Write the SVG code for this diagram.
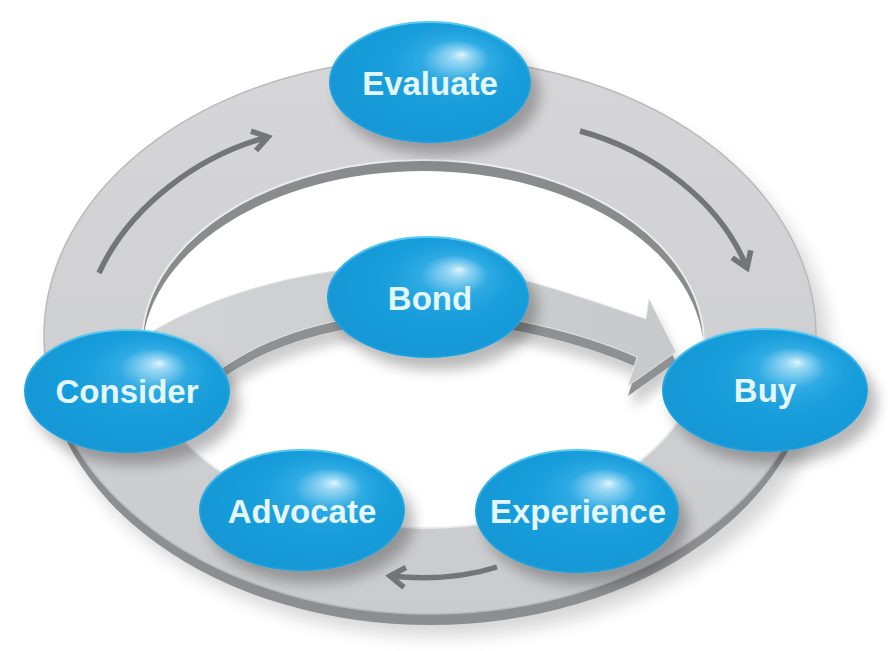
<svg xmlns="http://www.w3.org/2000/svg" width="895" height="651" viewBox="0 0 895 651">
<style>
.lbl{font-family:"Liberation Sans",Arial,Helvetica,sans-serif;font-weight:bold;font-size:33px;fill:#e4f7fd;text-anchor:middle}
.node{fill:url(#blue);filter:url(#nsh);stroke:url(#rim);stroke-width:2}
.ra{fill:none;stroke:#737577;stroke-width:5.5;stroke-linecap:butt;marker-end:url(#chev)}
</style>
<defs>
<radialGradient id="blue" cx="0.55" cy="0.45" r="0.6" fx="0.66" fy="0.27">
<stop offset="0" stop-color="#dff3fc"/>
<stop offset="0.08" stop-color="#9ad8f4"/>
<stop offset="0.28" stop-color="#2fabe3"/>
<stop offset="0.5" stop-color="#1a9fdc"/>
<stop offset="1" stop-color="#1596d5"/>
</radialGradient>
<linearGradient id="rim" x1="0" y1="0" x2="0" y2="1">
<stop offset="0" stop-color="#5ccbf2"/>
<stop offset="0.5" stop-color="#1a9fdc"/>
<stop offset="1" stop-color="#1a9fdc"/>
</linearGradient>
<linearGradient id="face" x1="0" y1="0" x2="0" y2="1">
<stop offset="0" stop-color="#d6d6d8"/>
<stop offset="1" stop-color="#cacbcd"/>
</linearGradient>
<linearGradient id="bandface" x1="0" y1="0" x2="1" y2="0">
<stop offset="0" stop-color="#d2d3d5"/>
<stop offset="1" stop-color="#c8c9cb"/>
</linearGradient>
<clipPath id="hole"><ellipse cx="423" cy="344" rx="281" ry="184"/></clipPath>
<filter id="nsh" x="-30%" y="-30%" width="170%" height="180%">
<feGaussianBlur in="SourceAlpha" stdDeviation="7"/>
<feOffset dx="9" dy="12" result="b"/>
<feComponentTransfer><feFuncA type="linear" slope="0.28"/></feComponentTransfer>
<feMerge><feMergeNode/><feMergeNode in="SourceGraphic"/></feMerge>
</filter>
<filter id="blur10" x="-20%" y="-20%" width="140%" height="140%"><feGaussianBlur stdDeviation="9"/></filter>
<filter id="bsh" x="-20%" y="-40%" width="140%" height="200%">
<feGaussianBlur in="SourceAlpha" stdDeviation="6"/>
<feOffset dx="4" dy="12"/>
<feComponentTransfer><feFuncA type="linear" slope="0.2"/></feComponentTransfer>
<feMerge><feMergeNode/><feMergeNode in="SourceGraphic"/></feMerge>
</filter>
<marker id="chev" viewBox="0 0 26 26" refX="18" refY="13" markerWidth="26" markerHeight="26" markerUnits="userSpaceOnUse" orient="auto">
<path d="M 3 3 L 18 13 L 3 23" fill="none" stroke="#737577" stroke-width="5.5"/>
</marker>
</defs>
<rect width="895" height="651" fill="#ffffff"/>
<g id="ring">
<ellipse cx="440" cy="356" rx="390" ry="280" fill="#000" opacity="0.16" filter="url(#blur10)"/>
<ellipse cx="430" cy="347" rx="386" ry="278" fill="#8d8e90"/>
<path d="M 44 336 A 386 278 0 1 0 816 336 A 386 278 0 1 0 44 336 Z M 142 344 A 281 184 0 1 0 704 344 A 281 184 0 1 0 142 344 Z" fill="url(#face)" fill-rule="evenodd" stroke="#b9babc" stroke-width="1.5"/>
<ellipse cx="423" cy="344" rx="281" ry="184" fill="#8a8b8d"/>
<ellipse cx="423" cy="355" rx="281" ry="184" fill="#ffffff" clip-path="url(#hole)"/>
<ellipse cx="423" cy="344" rx="281" ry="184" fill="none" stroke="#ececee" stroke-width="2"/>
</g>
<g id="connectors">
<g id="bond-arrow" filter="url(#bsh)">
<path transform="translate(0,10)" d="M 148 334 C 220 290 320 265 420 265 C 490 265 560 290 646 319 L 649 299 L 676 352 L 628 386 L 637 357 C 580 332 500 312 428 312 C 350 312 280 330 228 364 L 190 390 L 130 370 Z" fill="#8f9092"/>
<path d="M 148 334 C 220 290 320 265 420 265 C 490 265 560 290 646 319 L 649 299 L 676 352 L 628 386 L 637 357 C 580 332 500 312 428 312 C 350 312 280 330 228 364 L 190 390 L 130 370 Z" fill="url(#bandface)" stroke="#e4e4e6" stroke-width="1"/>
</g>
<path class="ra" d="M 99 273 C 130 205 200 155 268 137"/>
<path class="ra" d="M 580 131 C 650 150 720 200 747 268"/>
<path class="ra" d="M 497 567 Q 450 582 390 576"/>
</g>
<g id="node-evaluate">
<ellipse class="node" cx="430" cy="82" rx="100" ry="60"/>
<text class="lbl" x="430" y="95">Evaluate</text>
</g>
<g id="node-bond">
<ellipse class="node" cx="428" cy="297" rx="100" ry="60"/>
<text class="lbl" x="430" y="310">Bond</text>
</g>
<g id="node-consider">
<ellipse class="node" cx="127" cy="391" rx="102" ry="61"/>
<text class="lbl" x="127" y="403">Consider</text>
</g>
<g id="node-buy">
<ellipse class="node" cx="765" cy="390" rx="102" ry="61"/>
<text class="lbl" x="765" y="402">Buy</text>
</g>
<g id="node-advocate">
<ellipse class="node" cx="302" cy="510" rx="102" ry="60"/>
<text class="lbl" x="302" y="523">Advocate</text>
</g>
<g id="node-experience">
<ellipse class="node" cx="577" cy="511" rx="101" ry="61"/>
<text class="lbl" x="578" y="523">Experience</text>
</g>
</svg>
